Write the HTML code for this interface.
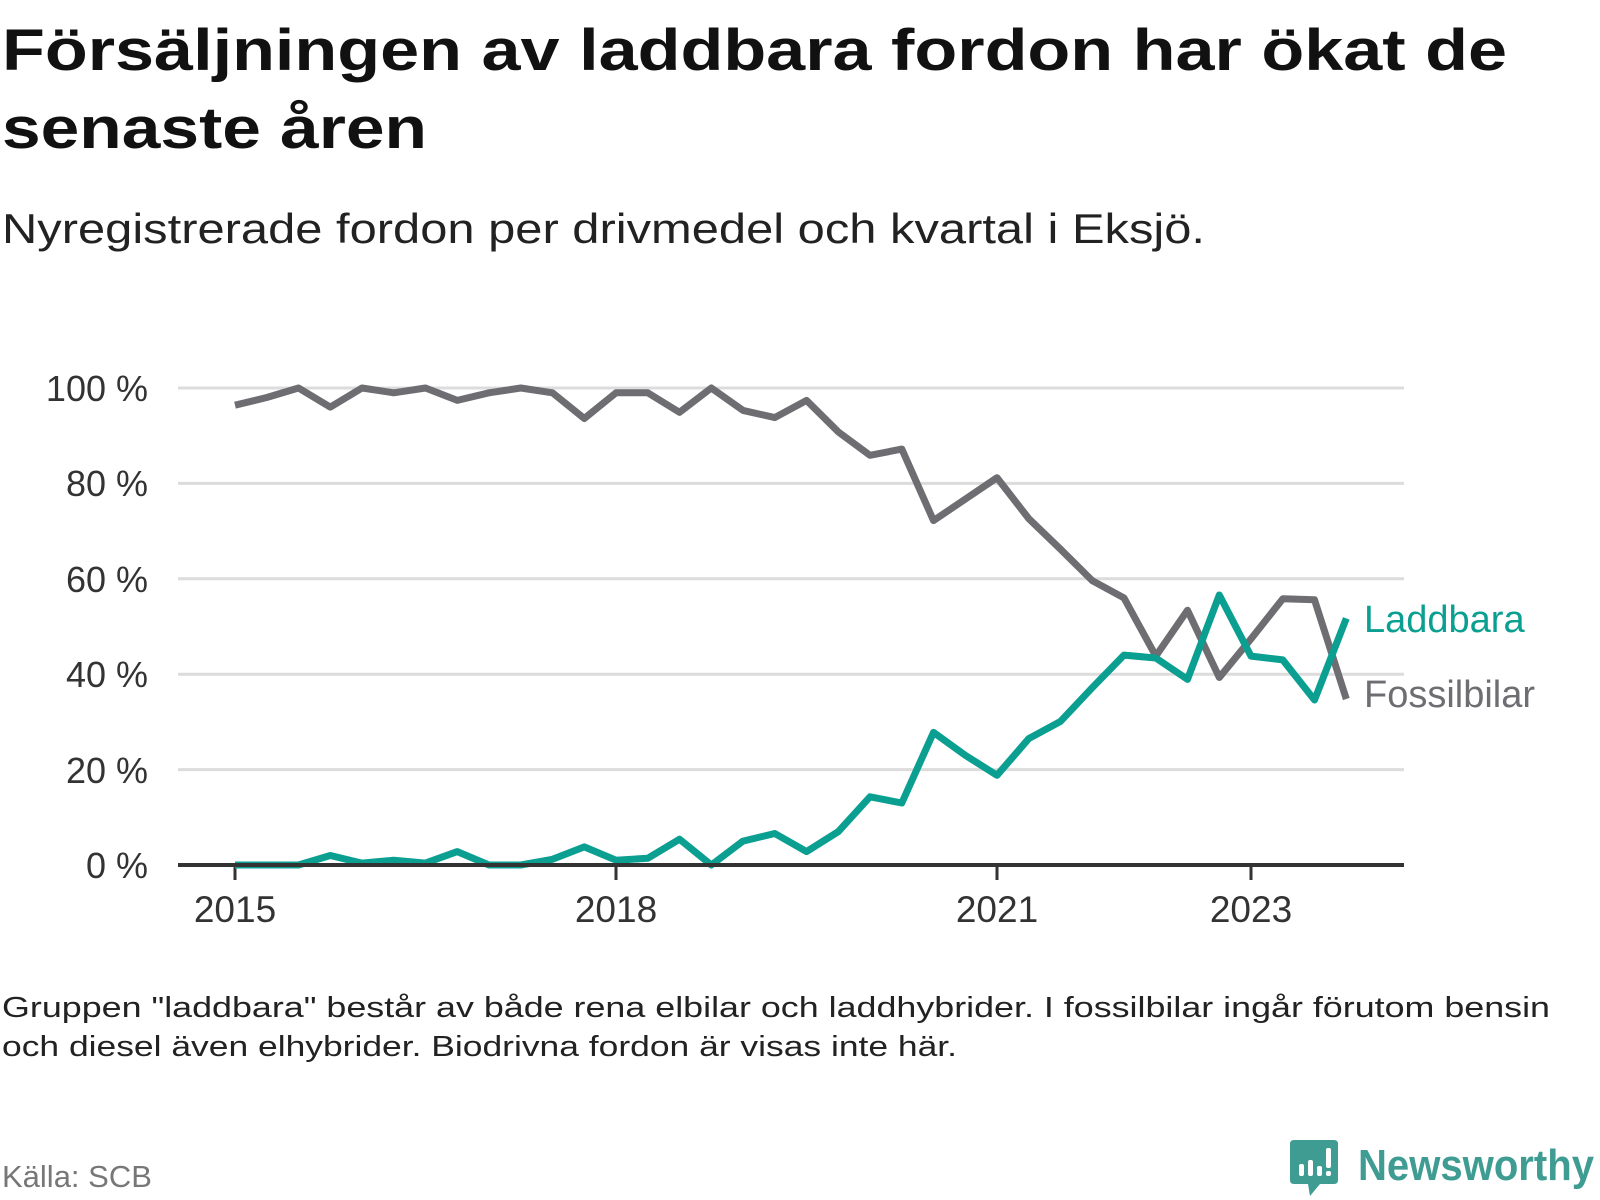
<!DOCTYPE html>
<html><head><meta charset="utf-8"><style>
html,body{margin:0;padding:0;background:#fff;width:1600px;height:1200px;overflow:hidden}
svg text{font-family:"Liberation Sans",sans-serif}
</style></head><body>
<svg width="1600" height="1200" viewBox="0 0 1600 1200" xmlns="http://www.w3.org/2000/svg">
<text x="2" y="70" font-size="58" font-weight="bold" fill="#111" textLength="1505" lengthAdjust="spacingAndGlyphs">Försäljningen av laddbara fordon har ökat de</text>
<text x="2" y="148" font-size="58" font-weight="bold" fill="#111" textLength="425" lengthAdjust="spacingAndGlyphs">senaste åren</text>
<text x="2" y="243" font-size="42" fill="#222" textLength="1203" lengthAdjust="spacingAndGlyphs">Nyregistrerade fordon per drivmedel och kvartal i Eksjö.</text>
<g stroke="#dcdcdc" stroke-width="3">
<line x1="178" x2="1404" y1="388" y2="388"/><line x1="178" x2="1404" y1="483.4" y2="483.4"/>
<line x1="178" x2="1404" y1="578.8" y2="578.8"/><line x1="178" x2="1404" y1="674.2" y2="674.2"/>
<line x1="178" x2="1404" y1="769.6" y2="769.6"/>
</g>
<g font-size="36" fill="#333" text-anchor="end">
<text x="148" y="401">100 %</text><text x="148" y="496">80 %</text><text x="148" y="592">60 %</text>
<text x="148" y="687">40 %</text><text x="148" y="783">20 %</text><text x="148" y="878">0 %</text>
</g>
<g stroke="#333" stroke-width="3"><line x1="235" x2="235" y1="865" y2="880"/><line x1="616" x2="616" y1="865" y2="880"/><line x1="997" x2="997" y1="865" y2="880"/><line x1="1251" x2="1251" y1="865" y2="880"/></g>
<g font-size="37" fill="#333" text-anchor="middle">
<text x="235" y="922">2015</text><text x="616" y="922">2018</text><text x="997" y="922">2021</text><text x="1251" y="922">2023</text>
</g>
<polyline id="f" fill="none" stroke="#6e6d72" stroke-width="7" stroke-linejoin="round" points=""/>
<polyline id="l" fill="none" stroke="#0a9f91" stroke-width="7" stroke-linejoin="round" points=""/>
<line x1="178" x2="1404" y1="865" y2="865" stroke="#333" stroke-width="4"/>
<text x="1364" y="632" font-size="38" fill="#0a9f91">Laddbara</text>
<text x="1364" y="707" font-size="38" fill="#6e6d72">Fossilbilar</text>
<text x="2" y="1017" font-size="29" fill="#222" textLength="1548" lengthAdjust="spacingAndGlyphs">Gruppen "laddbara" består av både rena elbilar och laddhybrider. I fossilbilar ingår förutom bensin</text>
<text x="2" y="1056" font-size="29" fill="#222" textLength="955" lengthAdjust="spacingAndGlyphs">och diesel även elhybrider. Biodrivna fordon är visas inte här.</text>
<text x="2" y="1187" font-size="31" fill="#777">Källa: SCB</text>
<g transform="translate(1290,1140)">
<path d="M0 4 Q0 0 4 0 L44 0 Q48 0 48 4 L48 40 Q48 44 44 44 L30 44 L20 56 L18 44 L4 44 Q0 44 0 40Z" fill="#3f9c92"/>
<rect x="9" y="24" width="5" height="12" rx="2" fill="#fff"/><rect x="18" y="20" width="5" height="16" rx="2" fill="#fff"/><rect x="27" y="26" width="5" height="10" rx="2" fill="#fff"/><rect x="36" y="8" width="5" height="20" rx="2" fill="#fff"/><rect x="36" y="31" width="5" height="5" rx="2" fill="#fff"/>
</g>
<text x="1358" y="1180" font-size="44" font-weight="bold" fill="#3f9c92" textLength="236" lengthAdjust="spacingAndGlyphs">Newsworthy</text>
</svg>
<script>
var F=[96.4,98,100,96,100,99,100,97.4,99,100,99,93.6,99,99,94.9,100,95.3,93.8,97.4,90.8,85.9,87.2,72.2,76.7,81.2,72.6,66.2,59.6,56,43.8,53.4,39.3,47.4,55.8,55.6,34.8];
var L=[0,0,0,2,0.4,1,0.4,2.8,0,0,1.2,3.8,1,1.4,5.4,0,5,6.6,2.8,7,14.3,13,27.8,23,18.8,26.5,30.1,37.2,44,43.4,38.9,56.6,43.8,43,34.6,51.7];
function pts(a){return a.map(function(v,i){return (235+i*31.75).toFixed(1)+","+(865-v*4.77).toFixed(1)}).join(" ");}
document.getElementById("f").setAttribute("points",pts(F));
document.getElementById("l").setAttribute("points",pts(L));
</script>
</body></html>
